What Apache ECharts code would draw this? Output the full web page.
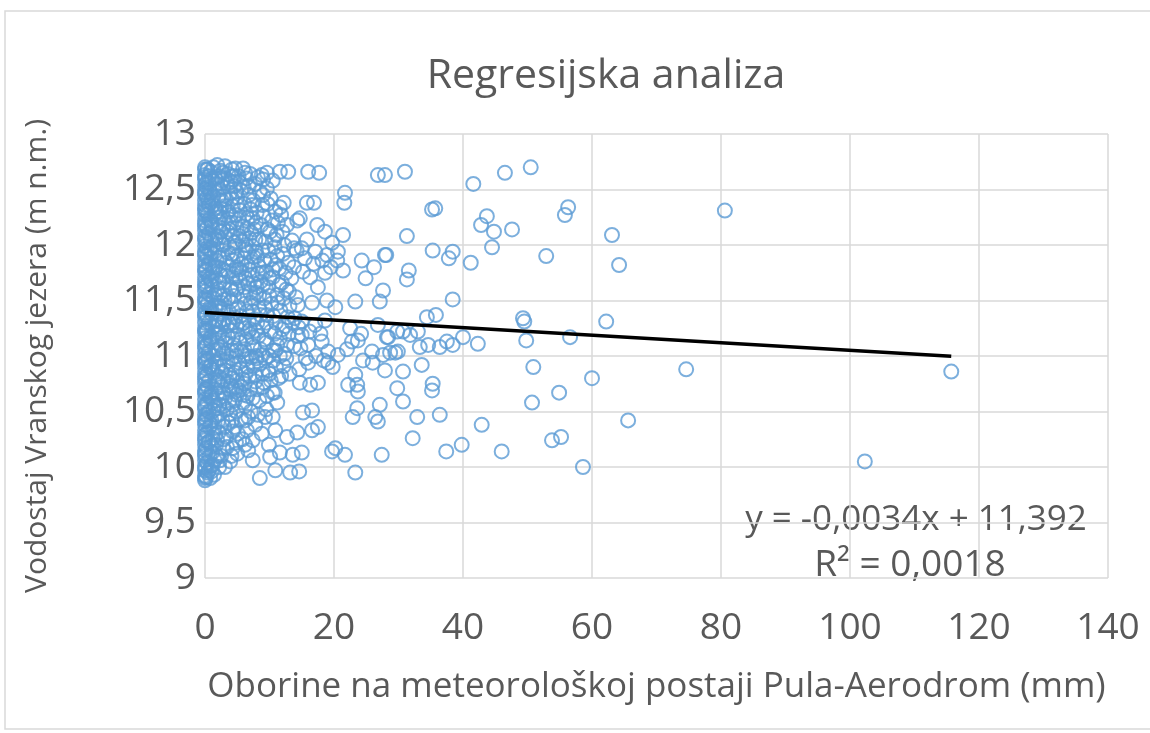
<!DOCTYPE html>
<html>
<head>
<meta charset="utf-8">
<title>Regresijska analiza</title>
<script src="https://cdn.jsdelivr.net/npm/echarts@6/dist/echarts.min.js"></script>
<style>
  html, body { margin: 0; padding: 0; background: #fff; }
  #chart { width: 1150px; height: 733px; }
</style>
</head>
<body>
<div id="chart"></div>
<script>
// vodostaj (m n.m.) za dane bez oborina (x = 0)
var nultiDani = [9.88, 9.92, 9.97, 10.01, 10.06, 10.1, 10.15, 10.2, 10.24, 10.29, 10.33, 10.38,
    10.43, 10.47, 10.52, 10.56, 10.61, 10.66, 10.7, 10.75, 10.79, 10.84, 10.89, 10.93, 10.98,
    11.02, 11.07, 11.12, 11.16, 11.21, 11.25, 11.3, 11.35, 11.39, 11.44, 11.48, 11.53, 11.58,
    11.62, 11.67, 11.71, 11.76, 11.81, 11.85, 11.9, 11.94, 11.99, 12.04, 12.08, 12.13, 12.17,
    12.22, 12.27, 12.31, 12.36, 12.4, 12.45, 12.5, 12.54, 12.59, 12.63, 12.68, 9.9, 9.99,
    10.12, 10.26, 10.41, 10.54, 10.68, 10.81, 10.95, 11.09, 11.23, 11.37, 11.51, 11.64, 11.78,
    11.92, 12.06, 12.19, 12.33, 12.47, 12.61, 12.7];

// [oborine mm, vodostaj m] - vrlo slabe oborine (< 3 mm)
var vrloSlabeOborine = [
    [0.2,9.91],[0.6,9.97],[0.3,10.04],[0.7,10.1],[0.2,10.17],[0.6,10.23],[0.3,10.3],[0.7,10.36],
    [0.2,10.43],[0.6,10.5],[0.3,10.57],[0.7,10.63],[0.2,10.7],[0.6,10.77],[0.3,10.83],[0.7,10.9],
    [0.2,10.96],[0.6,11.03],[0.3,11.1],[0.7,11.16],[0.2,11.23],[0.6,11.3],[0.3,11.36],[0.7,11.43],
    [0.2,11.5],[0.6,11.56],[0.3,11.63],[0.7,11.7],[0.2,11.77],[0.6,11.83],[0.3,11.9],[0.7,11.96],
    [0.2,12.03],[0.6,12.1],[0.3,12.16],[0.7,12.23],[0.2,12.3],[0.6,12.36],[0.3,12.43],[0.7,12.5],
    [0.2,12.56],[0.6,12.62],[0.3,12.68],
    [1.2,10.02],[1.8,10.1],[1.4,10.35],[2.0,10.41],[1.3,10.6],[1.9,10.66],[2.5,10.72],[1.4,10.85],
    [2.0,10.9],[2.6,10.86],[1.3,11.0],[1.9,11.12],[2.5,11.08],[1.2,11.26],[1.8,11.33],[2.4,11.4],
    [1.3,11.52],[1.9,11.6],[2.5,11.48],[1.2,11.8],[1.8,11.86],[2.4,11.73],[1.3,12.0],[1.9,12.08],
    [2.5,12.12],[1.2,12.14],[1.8,12.3],[2.4,12.25],[1.3,12.44],[2.2,12.62],[2.6,12.4],
    [1.0,9.96],[1.5,10.06],[1.0,10.19],[1.6,10.29],[1.0,10.42],[1.6,10.55],[1.0,10.67],[1.6,10.79],
    [1.0,10.92],[1.6,11.05],[1.0,11.17],[1.6,11.27],[1.0,11.42],[1.6,11.55],[1.0,11.68],[1.6,11.8],
    [1.0,11.93],[1.6,12.05],[1.0,12.18],[1.6,12.33],[1.0,12.42],[1.6,12.6],
    [2.2,10.0],[2.9,10.25],[2.3,10.48],[2.9,10.55],[2.2,10.62],[2.8,10.78],[2.3,10.98],[2.9,11.03],
    [2.2,11.2],[2.8,11.3],[2.3,11.45],[2.9,11.55],[2.2,11.66],[2.8,11.78],[2.3,11.88],[2.9,12.0],
    [2.2,12.07],[2.8,12.15],[2.3,12.3],[2.9,12.44],[2.2,12.5],[2.8,12.65]
];

// slabe oborine (3 - 15 mm)
var slabeOborine = [
    [0.4,12.68],[0.9,12.66],[1.3,12.70],[1.9,12.72],[2.4,12.67],[3.1,12.71],[3.6,12.64],[4.2,12.68],
    [4.7,12.69],[5.2,12.62],[5.9,12.69],[6.4,12.6],[7.0,12.64],[8.2,12.61],[8.8,12.63],[9.0,12.59],
    [9.6,12.65],[11.6,12.66],[12.9,12.66],[1.1,12.59],[2.7,12.58],[4.0,12.57],[0.6,12.56],
    [0.3,12.52],[0.8,12.47],[1.5,12.5],[2.1,12.44],[2.8,12.52],[3.3,12.41],[3.9,12.47],[4.5,12.53],
    [5.0,12.43],[5.6,12.49],[6.1,12.37],[6.8,12.45],[7.5,12.4],[8.5,12.48],[9.6,12.51],[1.2,12.36],
    [2.5,12.33],[4.3,12.35],[5.4,12.31],[7.1,12.32],[8.9,12.36],[10.2,12.42],[11.6,12.34],[12.2,12.38],
    [0.5,12.40],[1.8,12.55],[3.6,12.3],
    [0.4,12.27],[1.0,12.21],[1.6,12.28],[2.2,12.16],[2.9,12.24],[3.5,12.12],[4.1,12.2],[4.8,12.27],
    [5.3,12.08],[5.9,12.17],[6.6,12.24],[7.2,12.11],[7.9,12.2],[8.4,12.05],[9.1,12.26],[9.7,12.14],
    [10.4,12.22],[11.1,12.09],[11.8,12.27],[12.7,12.18],[13.5,12.04],[14.3,12.22],[0.9,12.04],
    [2.6,12.01],[4.6,12.02],[6.3,12.0],[8.0,12.29],[10.9,12.3],[12.3,12.0],
    [0.3,11.97],[0.9,11.88],[1.5,11.94],[2.1,11.8],[2.7,11.91],[3.3,11.84],[3.9,11.98],[4.4,11.77],
    [5.0,11.9],[5.7,11.83],[6.3,11.96],[6.9,11.78],[7.6,11.89],[8.3,11.81],[8.9,11.95],[9.5,11.76],
    [10.2,11.87],[10.8,11.98],[11.5,11.79],[12.1,11.92],[12.9,11.84],[13.8,11.97],[1.2,11.76],
    [4.7,11.99],[7.3,11.99],
    [0.5,11.72],[1.1,11.63],[1.7,11.7],[2.3,11.56],[2.9,11.66],[3.6,11.52],[4.2,11.71],[4.8,11.6],
    [5.4,11.68],[6.0,11.54],[6.7,11.65],[7.3,11.73],[7.9,11.57],[8.6,11.67],[9.2,11.52],[9.8,11.62],
    [10.5,11.71],[11.2,11.55],[11.9,11.66],[12.6,11.6],[13.4,11.7],[14.1,11.53],[3.0,11.51],
    [5.7,11.75],[8.2,11.74],
    [0.4,11.47],[1.0,11.38],[1.6,11.45],[2.2,11.31],[2.8,11.42],[3.4,11.27],[4.0,11.49],[4.6,11.35],
    [5.2,11.44],[5.8,11.29],[6.5,11.4],[7.1,11.48],[7.7,11.33],[8.4,11.43],[9.0,11.26],[9.6,11.37],
    [10.3,11.47],[11.0,11.3],[11.7,11.41],[12.4,11.27],[13.1,11.45],[13.9,11.34],[14.5,11.26],
    [2.5,11.26],[6.2,11.25],
    [0.3,11.22],[0.9,11.13],[1.5,11.2],[2.1,11.06],[2.7,11.17],[3.3,11.02],[3.9,11.23],[4.5,11.1],
    [5.1,11.19],[5.7,11.04],[6.4,11.15],[7.0,11.24],[7.6,11.08],[8.3,11.18],[8.9,11.01],[9.5,11.12],
    [10.2,11.22],[10.9,11.05],[11.6,11.16],[12.3,11.02],[13.0,11.2],[13.8,11.09],[14.4,11.18],
    [4.8,11.0],[7.9,11.0],
    [0.5,10.97],[1.1,10.88],[1.7,10.95],[2.3,10.81],[2.9,10.92],[3.5,10.77],[4.1,10.98],[4.7,10.85],
    [5.3,10.94],[5.9,10.79],[6.6,10.9],[7.2,10.99],[7.8,10.83],[8.5,10.93],[9.1,10.76],[9.8,10.87],
    [10.6,10.96],[11.4,10.8],[12.2,10.91],[13.1,10.84],[2.0,10.76],[6.1,10.75],
    [0.4,10.72],[1.0,10.63],[1.6,10.7],[2.2,10.56],[2.8,10.67],[3.4,10.52],[4.0,10.73],[4.6,10.6],
    [5.3,10.69],[5.9,10.58],[6.6,10.64],[7.4,10.62],[9.0,10.72],[10.5,10.67],[4.3,10.56],[8.1,10.7],
    [1.3,10.51],
    [0.3,10.47],[0.9,10.38],[1.5,10.45],[2.1,10.31],[2.7,10.42],[3.3,10.27],[3.9,10.48],[4.6,10.36],
    [6.2,10.42],[6.7,10.45],[9.3,10.45],[10.5,10.45],[10.9,10.33],[12.7,10.27],[14.3,10.31],
    [5.1,10.3],[7.8,10.38],[1.2,10.26],
    [0.5,10.22],[1.1,10.13],[1.7,10.2],[2.3,10.06],[2.8,10.17],[3.4,10.18],[3.9,10.05],[4.3,10.17],
    [6.2,10.2],[6.7,10.15],[7.4,10.24],[7.4,10.06],[10.1,10.09],[11.6,10.13],[13.6,10.11],
    [0.9,10.01],[1.9,10.24],
    [0.8,9.9],[0.4,9.95],[1.4,9.93],[8.5,9.9],[10.9,9.97],[13.2,9.95],[14.6,9.96],
    [3.0,12.6],[3.5,12.55],[4.6,12.62],[5.4,12.56],[6.0,12.52],[3.0,12.35],[4.0,12.27],[5.0,12.36],
    [6.4,12.28],[7.4,12.24],[3.1,12.07],[3.8,12.14],[5.2,12.23],[5.8,12.03],[6.9,12.06],[7.7,12.14],
    [3.6,11.93],[4.3,11.86],[5.3,11.78],[6.0,11.88],[6.6,11.82],[7.9,11.94],[3.2,11.72],[3.9,11.62],
    [4.5,11.54],[5.1,11.62],[6.3,11.7],[7.0,11.57],[7.6,11.65],[3.0,11.33],[3.7,11.4],[4.3,11.3],
    [4.9,11.27],[5.5,11.36],[6.8,11.32],[7.4,11.4],[3.1,11.12],[3.6,11.17],[4.2,11.05],[5.4,11.12],
    [6.1,11.06],[6.7,11.22],[7.3,11.1],[3.2,10.87],[3.8,10.83],[4.4,10.92],[5.0,10.78],[5.6,10.88],
    [6.3,10.97],[6.9,10.82],[7.5,10.91],[3.1,10.62],[3.7,10.58],[4.9,10.65],[5.6,10.72],[6.2,10.55],
    [7.0,10.7],[3.0,10.36],[3.6,10.4],[4.3,10.32],[5.6,10.43],[2.5,10.1],[3.1,10.0],[5.0,10.12],
    [5.8,10.25],
    [8.7,12.18],[9.4,12.03],[10.1,12.12],[11.3,12.2],[12.0,12.12],[8.1,11.9],[9.2,11.86],[10.5,11.78],
    [11.2,11.9],[12.5,11.75],[8.4,11.55],[9.0,11.64],[10.0,11.54],[11.5,11.64],[12.2,11.52],[13.0,11.58],
    [8.1,11.3],[9.3,11.44],[10.6,11.36],[11.3,11.48],[12.8,11.35],[8.6,11.06],[9.9,11.0],[11.2,11.1],
    [12.0,11.24],[12.7,11.1],[13.5,11.3],[8.9,10.84],[10.2,10.78],[11.0,10.9],[11.8,10.82],[12.6,10.98],
    [8.4,10.6],[9.6,10.64],[11.2,10.58],[8.8,10.3],[9.9,10.2],
    [4.1,10.1],[4.8,10.22],[4.2,10.42],[4.9,10.5],[4.3,10.7],[4.8,10.72],[4.2,10.8],[4.9,11.05],
    [4.3,11.16],[4.9,11.42],[4.1,11.6],[4.8,11.7],[4.2,11.92],[4.9,11.8],[4.3,12.08],[4.9,12.15],
    [4.2,12.42],[4.8,12.48],[4.1,12.62],[3.7,12.2],[3.6,11.76],[3.7,11.3],[3.5,10.95],[3.8,10.7],
    [6.5,10.33],[7.1,10.5],[6.0,10.65],[7.8,10.77],[6.3,10.84],[8.0,10.98],[6.5,11.0],[7.4,11.17],
    [6.0,11.3],[7.9,11.23],[6.2,11.47],[7.5,11.52],[6.1,11.62],[8.0,11.62],[6.6,11.93],[7.2,11.85],
    [6.0,12.1],[7.8,12.05],[6.5,12.15],[7.3,12.36],[6.8,12.53],[7.8,12.55],[6.2,12.65],
    [8.6,11.37],[9.5,11.3],[10.8,11.2],[9.2,11.15],[10.5,11.05],[8.9,11.75],[10.0,11.7],[11.0,11.82],
    [9.8,11.95],[10.8,12.05],[9.7,12.37],[10.5,12.58],[9.0,12.45],[9.4,10.98],[10.8,10.67],[9.5,10.52],
    [8.2,10.47],[10.0,10.84],[11.6,11.0]
];

// umjerene oborine (15 - 30 mm)
var umjereneOborine = [
    [16.0,12.66],[17.7,12.65],[26.8,12.63],[27.9,12.63],[21.7,12.47],[21.6,12.38],[15.8,12.38],
    [16.9,12.38],[14.7,12.24],[17.4,12.18],[18.6,12.12],[15.8,12.05],[19.7,12.02],[21.4,12.09],
    [15.0,11.97],[17.1,11.94],[18.9,11.91],[20.6,11.94],[20.5,11.86],[24.3,11.86],[26.2,11.80],
    [27.9,11.91],[24.9,11.70],[16.3,11.71],[18.6,11.75],[21.4,11.77],[17.5,11.62],[27.6,11.59],
    [23.3,11.49],[27.1,11.49],[14.4,11.46],[16.6,11.48],[18.9,11.50],[20.2,11.44],[22.5,11.25],
    [26.8,11.28],[28.2,11.17],[22.8,11.13],[23.7,11.14],[25.9,11.04],[27.6,11.01],[28.7,11.03],
    [15.0,11.19],[16.0,11.10],[18.1,11.13],[19.1,11.04],[20.6,11.01],[15.0,11.31],[17.1,11.28],
    [18.6,11.32],[14.2,11.95],[15.5,11.88],[16.8,11.83],[18.2,11.86],[19.5,11.8],[15.2,11.76],
    [13.8,11.8],[14.8,11.07],[15.6,10.98],[17.2,11.0],[18.4,10.96],[19.8,10.9],[14.6,10.88],
    [16.2,11.22],[17.9,11.2],[22.0,11.06],[24.5,10.96],[24.2,11.2],
    [16.0,10.94],[19.1,10.94],[26.0,10.94],[27.9,10.87],[22.2,10.74],[23.6,10.74],[23.7,10.68],
    [23.3,10.83],[14.7,10.76],[16.3,10.74],[17.5,10.76],[15.2,10.49],[16.6,10.51],[22.9,10.45],
    [23.6,10.53],[26.4,10.45],[26.8,10.41],[27.1,10.56],[16.6,10.33],[17.5,10.36],[20.2,10.17],
    [21.7,10.11],[19.7,10.14],[27.4,10.11],[15.0,10.13],[23.3,9.95]
];

// jake oborine (> 30 mm)
var jakeOborine = [
    [31.0,12.66],[41.6,12.55],[46.5,12.65],[50.5,12.70],[35.2,12.32],[35.7,12.33],[31.3,12.08],
    [43.7,12.26],[42.8,12.18],[44.8,12.12],[47.6,12.14],[56.3,12.34],[55.8,12.27],[63.1,12.09],
    [80.6,12.31],[28.1,11.91],[35.3,11.95],[38.4,11.94],[37.8,11.88],[41.2,11.84],[44.5,11.98],
    [52.9,11.90],[64.2,11.82],[31.6,11.77],[31.3,11.69],[38.4,11.51],[34.4,11.35],[35.8,11.37],
    [49.3,11.34],[49.5,11.31],[62.2,11.31],[28.4,11.17],[29.8,11.22],[30.7,11.22],[31.8,11.19],
    [33.0,11.22],[34.6,11.10],[33.3,11.08],[36.4,11.08],[37.5,11.13],[38.4,11.10],[40.0,11.17],
    [42.3,11.11],[49.8,11.14],[56.6,11.17],[29.5,11.03],[29.9,11.04],[30.7,10.86],[33.6,10.92],
    [29.8,10.71],[35.3,10.75],[35.2,10.69],[30.7,10.59],[32.9,10.45],[36.4,10.47],[32.2,10.26],
    [37.4,10.14],[39.8,10.20],[42.9,10.38],[46.0,10.14],[50.9,10.90],[50.7,10.58],[54.9,10.67],
    [60.0,10.80],[53.8,10.24],[55.2,10.27],[58.6,10.0],[65.6,10.42],[74.6,10.88],[102.3,10.05],
    [115.7,10.86]
];

// linearni trend: y = -0,0034x + 11,392 ; R² = 0,0018
var nagib = -0.0034;
var odsjecak = 11.392;
var jednadzba = 'y = -0,0034x + 11,392';
var r2Tekst = 'R² = 0,0018';

var sviPodaci = [];
for (var i = 0; i < nultiDani.length; i++) {
    sviPodaci.push([0, nultiDani[i]]);
}
sviPodaci = sviPodaci.concat(vrloSlabeOborine, slabeOborine, umjereneOborine, jakeOborine);

var maxX = 0;
for (i = 0; i < sviPodaci.length; i++) {
    if (sviPodaci[i][0] > maxX) maxX = sviPodaci[i][0];
}
var trendLinija = [[0, odsjecak], [maxX, odsjecak + nagib * maxX]];

var font = 'Open Sans';
var siva = '#595959';
var mreza = '#d9d9d9';

var chart = echarts.init(document.getElementById('chart'));

chart.setOption({
    animation: false,
    backgroundColor: '#fff',
    title: {
        text: 'Regresijska analiza',
        left: 601,
        top: 51,
        textAlign: 'center',
        textStyle: {
            fontFamily: font,
            fontSize: 41,
            fontWeight: 'normal',
            color: siva
        }
    },
    grid: {
        left: 205,
        right: 42,
        top: 134,
        bottom: 155
    },
    xAxis: {
        type: 'value',
        min: 0,
        max: 140,
        interval: 20,
        name: 'Oborine na meteorološkoj postaji Pula-Aerodrom (mm)',
        nameLocation: 'middle',
        nameGap: 92,
        nameTextStyle: { fontFamily: font, fontSize: 35, color: siva },
        axisLine: { show: false },
        axisTick: { show: false },
        axisLabel: { fontFamily: font, fontSize: 37, color: siva, margin: 32 },
        splitLine: { show: true, lineStyle: { color: mreza, width: 1.5 } }
    },
    yAxis: {
        type: 'value',
        min: 9,
        max: 13,
        interval: 0.5,
        name: 'Vodostaj Vranskog jezera (m n.m.)',
        nameLocation: 'middle',
        nameGap: 153,
        nameTextStyle: { fontFamily: font, fontSize: 30, color: siva },
        axisLine: { show: false },
        axisTick: { show: false },
        axisLabel: {
            fontFamily: font,
            fontSize: 37,
            color: siva,
            margin: 9,
            formatter: function (v) { return String(v).replace('.', ','); }
        },
        splitLine: { show: true, lineStyle: { color: mreza, width: 1.5 } }
    },
    graphic: [
        {
            type: 'rect',
            shape: { x: 5, y: 11, width: 1160, height: 718 },
            style: { fill: 'none', stroke: mreza, lineWidth: 1.5 },
            silent: true
        },
        {
            type: 'text', x: 916, y: 520,
            style: { text: jednadzba, fontFamily: font, fontSize: 35, fill: siva, align: 'center', verticalAlign: 'middle' }
        },
        {
            type: 'text', x: 910, y: 565,
            style: { text: r2Tekst, fontFamily: font, fontSize: 37, fill: siva, align: 'center', verticalAlign: 'middle' }
        }
    ],
    series: [
        {
            name: 'Vodostaj',
            type: 'scatter',
            data: sviPodaci,
            symbol: 'circle',
            symbolSize: 14,
            itemStyle: {
                color: 'rgba(0,0,0,0)',
                borderColor: '#5b9bd5',
                borderWidth: 2
            },
            silent: true,
            z: 2
        },
        {
            name: 'Trend',
            type: 'line',
            data: trendLinija,
            showSymbol: false,
            symbol: 'none',
            lineStyle: { color: '#000', width: 3.5 },
            silent: true,
            z: 3
        }
    ]
});
</script>
</body>
</html>
